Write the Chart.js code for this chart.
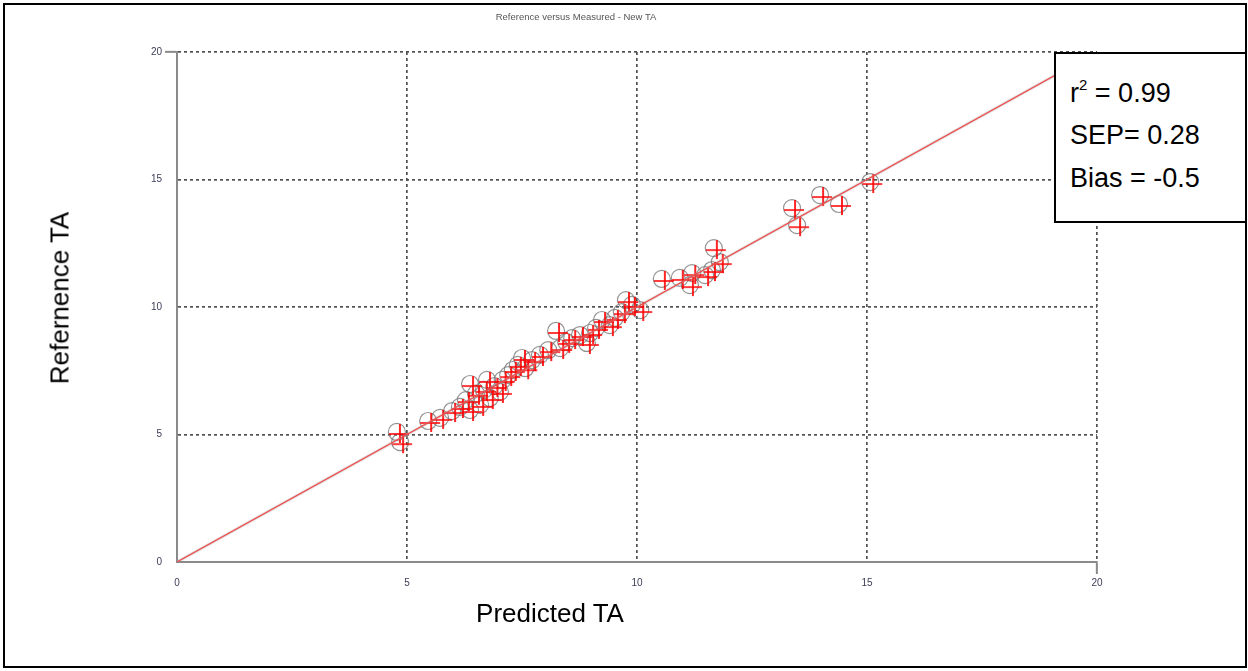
<!DOCTYPE html>
<html>
<head>
<meta charset="utf-8">
<script src="https://cdn.jsdelivr.net/npm/chart.js@4"></script>
<style>
    html, body { margin: 0; padding: 0; background: #fff; }
    #wrap { position: relative; width: 1248px; height: 671px; overflow: hidden; font-family: "Liberation Sans", Arial, sans-serif; }
    #taChart { position: absolute; left: 0; top: 0; }
    .frame { position: absolute; left: 3px; top: 3px; width: 1240px; height: 661px; border: 2px solid #000; pointer-events: none; }
    .title { position: absolute; left: 376px; width: 400px; top: 11px; text-align: center; font-size: 9.5px; color: #555; }
    .xTitle { position: absolute; left: 400px; width: 300px; top: 598px; text-align: center; font-size: 26px; color: #000; }
    .yTitle { position: absolute; left: 60px; top: 298px; transform: translate(-50%, -50%) rotate(-90deg); font-size: 26px; color: #000; white-space: nowrap; }
    .stats { position: absolute; left: 1054px; top: 52px; width: 189px; height: 167px; border: 2px solid #000; background: #fff; }
    .stats div { position: absolute; left: 14px; font-size: 27px; color: #000; white-space: nowrap; }
    .stats sup { font-size: 15px; vertical-align: 12px; line-height: 0; }
</style>
</head>
<body>
<div id="wrap">
    <canvas id="taChart" width="1248" height="671"></canvas>
    <div class="title">Reference versus Measured - New TA</div>
    <div class="xTitle">Predicted TA</div>
    <div class="yTitle">Refernence TA</div>
    <div class="stats">
        <div style="top: 24px;">r<sup>2</sup> = 0.99</div>
        <div style="top: 66px;">SEP= 0.28</div>
        <div style="top: 109px;">Bias = -0.5</div>
    </div>
    <div class="frame"></div>
</div>
<script>
    // samples: predicted TA (x) against reference TA (y)
    const predicted = [4.78, 4.85, 5.46, 5.72, 5.98, 6.15, 6.28, 6.37, 6.37, 6.5, 6.59, 6.67, 6.74, 6.8, 6.9,
        7.02, 7.08, 7.2, 7.3, 7.41, 7.5, 7.57, 7.72, 7.89, 8.07, 8.24, 8.33, 8.46, 8.59, 8.76, 8.91, 8.98,
        9.11, 9.24, 9.41, 9.52, 9.67, 9.76, 9.89, 10.07, 10.54, 10.93, 11.2, 11.15, 11.48, 11.63, 11.67,
        11.8, 13.37, 13.48, 13.98, 14.39, 15.07];
    const reference = [5.1, 4.7, 5.53, 5.65, 5.92, 6.08, 6.35, 5.96, 6.98, 6.6, 6.16, 6.75, 7.14, 6.43, 6.9,
        6.67, 7.14, 7.33, 7.53, 7.73, 8.0, 7.6, 7.92, 8.12, 8.31, 9.06, 8.39, 8.63, 8.78, 8.9, 8.59, 8.98,
        9.18, 9.49, 9.29, 9.57, 9.8, 10.27, 10.08, 9.88, 11.1, 11.14, 11.33, 10.86, 11.25, 11.45, 12.31,
        11.76, 13.88, 13.21, 14.39, 14.04, 14.9];
    const fitLine = [0, 20];
    const tickValues = [0, 5, 10, 15, 20];

    const points = predicted.map(function (x, i) { return { x: x, y: reference[i] }; });
    const linePoints = fitLine.map(function (v) { return { x: v, y: v }; });

    // red cross marker, drawn a little right of and below the circle centre
    const crossMark = document.createElement('canvas');
    crossMark.width = 30;
    crossMark.height = 30;
    (function () {
        const c = crossMark.getContext('2d');
        c.strokeStyle = '#ff0000';
        c.lineWidth = 1.7;
        c.beginPath();
        c.moveTo(7, 17); c.lineTo(27, 17);
        c.moveTo(18, 7); c.lineTo(18, 26);
        c.stroke();
    })();

    const axisColor = '#8a8a8a';
    const gridColor = '#505050';

    function makeAxis(pos) {
        return {
            type: 'linear',
            position: pos,
            min: 0,
            max: 20,
            afterBuildTicks: function (scale) {
                scale.ticks = tickValues.map(function (v) { return { value: v }; });
            },
            afterFit: function (scale) {
                if (pos === 'left') scale.width = 177;
                else scale.height = 109;
            },
            ticks: {
                padding: 3,
                color: '#3c3c58',
                font: { family: 'Liberation Sans', size: 10 }
            },
            grid: {
                color: gridColor,
                lineWidth: 1.7,
                tickLength: 12,
                tickColor: function (ctx) {
                    return ctx.tick && ctx.tick.value === 20 ? axisColor : 'rgba(0,0,0,0)';
                },
                tickWidth: 2
            },
            border: {
                display: true,
                color: axisColor,
                width: 2,
                dash: [3, 3]
            }
        };
    }

    new Chart(document.getElementById('taChart'), {
        type: 'scatter',
        data: {
            datasets: [
                {
                    label: 'fit shadow',
                    type: 'line',
                    data: linePoints,
                    borderColor: 'rgba(160,160,160,0.35)',
                    borderWidth: 3,
                    pointRadius: 0,
                    order: 1
                },
                {
                    label: 'fit',
                    type: 'line',
                    data: linePoints,
                    borderColor: '#f04848',
                    borderWidth: 1.1,
                    pointRadius: 0,
                    order: 0
                },
                {
                    label: 'crosses',
                    data: points,
                    pointStyle: crossMark,
                    pointRadius: 9,
                    order: 2
                },
                {
                    label: 'circles',
                    data: points,
                    pointStyle: 'circle',
                    pointRadius: 8.5,
                    backgroundColor: 'rgba(0,0,0,0)',
                    borderColor: 'rgba(120,120,120,0.8)',
                    borderWidth: 1.2,
                    order: 3
                }
            ]
        },
        options: {
            responsive: false,
            animation: false,
            layout: { padding: { top: 52, right: 151, left: 0, bottom: 0 } },
            plugins: {
                legend: { display: false },
                tooltip: { enabled: false }
            },
            scales: {
                x: makeAxis('bottom'),
                y: makeAxis('left')
            }
        }
    });
</script>
</body>
</html>
